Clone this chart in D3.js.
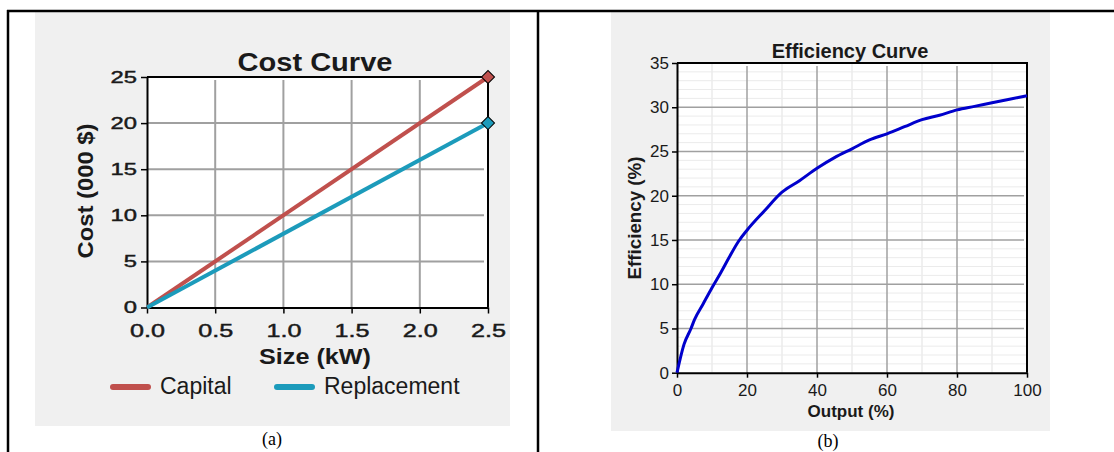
<!DOCTYPE html>
<html>
<head>
<meta charset="utf-8">
<script src="https://cdn.jsdelivr.net/npm/d3@7"></script>
<style>
body { margin: 0; background: #fff; }
svg { display: block; font-family: "Liberation Sans", Arial, sans-serif; }
.axis .domain { stroke: #000; stroke-width: 2; }
.axis .tick line { stroke: #000; stroke-width: 1.5; }
.axis .tick text { fill: #1a1a1a; }
</style>
</head>
<body>
<div id="chart-area"></div>
<script>
/*
*    Cost curve (a) and efficiency curve (b)
*/

// ---- data ----
const SIZES = [0, 2.5];
const CAPITAL = [0, 25];
const REPLACEMENT = [0, 20];
const COST_X_TICKS = [0, 0.5, 1, 1.5, 2, 2.5];
const COST_Y_TICKS = [0, 5, 10, 15, 20, 25];
const LEGEND = ["Capital", "Replacement"];

const OUTPUT = [0, 2, 4, 5, 7.5, 10, 12.5, 15, 17.5, 20, 25, 30, 35, 40, 45, 50, 55, 60, 65, 70, 75, 80, 85, 90, 95, 100];
const EFFICIENCY = [0, 3.2, 5.0, 6.0, 7.8, 9.6, 11.3, 13.1, 14.8, 16.1, 18.3, 20.4, 21.7, 23.1, 24.3, 25.3, 26.3, 27.0, 27.8, 28.6, 29.1, 29.7, 30.1, 30.5, 30.9, 31.3];
const EFF_X_TICKS = [0, 20, 40, 60, 80, 100];
const EFF_Y_TICKS = [0, 5, 10, 15, 20, 25, 30, 35];
const EFF_X_MINOR = [10, 30, 50, 70, 90];
const EFF_Y_MINOR = d3.range(1, 35).filter(v => v % 5 !== 0);

const RED = "#c0504d";
const TEAL = "#1c9bbb";
const GRID = "#a0a0a0";

// ---- svg ----
const W = 1114, H = 452;
const svg = d3.select("#chart-area").append("svg")
    .attr("width", W)
    .attr("height", H);

svg.append("rect").attr("width", W).attr("height", H).attr("fill", "#fff");

// panel backgrounds
svg.append("rect").attr("x", 35).attr("y", 12).attr("width", 475).attr("height", 414).attr("fill", "#f0f0f0");
svg.append("rect").attr("x", 611).attr("y", 12).attr("width", 439).attr("height", 419).attr("fill", "#f0f0f0");

// table frame
svg.append("line").attr("x1", 7).attr("x2", W).attr("y1", 11).attr("y2", 11).attr("stroke", "#000").attr("stroke-width", 2.5);
svg.append("line").attr("x1", 8).attr("x2", 8).attr("y1", 10).attr("y2", H).attr("stroke", "#000").attr("stroke-width", 2.5);
svg.append("line").attr("x1", 538).attr("x2", 538).attr("y1", 10).attr("y2", H).attr("stroke", "#000").attr("stroke-width", 2.5);

// captions
svg.append("text").attr("x", 272).attr("y", 445).attr("text-anchor", "middle")
    .style("font-family", "'Liberation Serif', 'Times New Roman', serif").style("font-size", "18px").text("(a)");
svg.append("text").attr("x", 828).attr("y", 447).attr("text-anchor", "middle")
    .style("font-family", "'Liberation Serif', 'Times New Roman', serif").style("font-size", "18px").text("(b)");

/* ---------- (a) Cost Curve ---------- */
const A = { L: 147, R: 488, T: 77, B: 307.5 };
const xA = d3.scaleLinear().domain([0, 2.5]).range([A.L, A.R]);
const yA = d3.scaleLinear().domain([0, 25]).range([A.B, A.T]);

const gA = svg.append("g");
gA.append("rect").attr("x", A.L).attr("y", A.T).attr("width", A.R - A.L).attr("height", A.B - A.T).attr("fill", "#fff");

gA.selectAll(".vgrid").data(COST_X_TICKS.slice(1, -1)).enter().append("line")
    .attr("x1", d => xA(d)).attr("x2", d => xA(d))
    .attr("y1", A.T + 3).attr("y2", A.B)
    .attr("stroke", GRID).attr("stroke-width", 2);
gA.selectAll(".hgrid").data(COST_Y_TICKS.slice(1, -1)).enter().append("line")
    .attr("x1", A.L).attr("x2", A.R - 4)
    .attr("y1", d => yA(d)).attr("y2", d => yA(d))
    .attr("stroke", GRID).attr("stroke-width", 2);

// top / right border
gA.append("path").attr("d", `M${A.L},${A.T}H${A.R}V${A.B}`).attr("fill", "none").attr("stroke", "#000").attr("stroke-width", 2);

const SXA = 1.4;
gA.append("g").attr("class", "axis").attr("transform", `translate(${A.L},0)`)
    .call(d3.axisLeft(yA).tickValues(COST_Y_TICKS).tickSize(6).tickSizeOuter(0).tickPadding(4))
    .selectAll("text").style("font-size", "17px")
    .attr("stroke", "#1a1a1a").attr("stroke-width", 0.45)
    .attr("transform", `scale(${SXA},1)`).attr("x", -10 / SXA);
gA.append("g").attr("class", "axis").attr("transform", `translate(0,${A.B})`)
    .call(d3.axisBottom(xA).tickValues(COST_X_TICKS).tickFormat(d3.format(".1f")).tickSize(6).tickSizeOuter(0).tickPadding(11))
    .selectAll("text").style("font-size", "18px")
    .attr("stroke", "#1a1a1a").attr("stroke-width", 0.45)
    .attr("transform", `scale(${SXA},1)`);

const lineA = d3.line().x(d => xA(d[0])).y(d => yA(d[1]));
const costSeries = [
    { name: LEGEND[0], color: RED, values: SIZES.map((s, i) => [s, CAPITAL[i]]) },
    { name: LEGEND[1], color: TEAL, values: SIZES.map((s, i) => [s, REPLACEMENT[i]]) }
];
gA.selectAll(".cost-line").data(costSeries).enter().append("path")
    .attr("d", d => lineA(d.values))
    .attr("fill", "none").attr("stroke", d => d.color).attr("stroke-width", 4);
gA.selectAll(".cost-mark").data(costSeries).enter().append("path")
    .attr("d", d3.symbol().type(d3.symbolSquare).size(85))
    .attr("transform", d => {
        const last = d.values[d.values.length - 1];
        return `translate(${xA(last[0])},${yA(last[1])}) rotate(45)`;
    })
    .attr("fill", d => d.color).attr("stroke", "#000").attr("stroke-width", 1);

gA.append("text").attr("x", 315).attr("y", 71).attr("text-anchor", "middle")
    .style("font-size", "25px").style("font-weight", "bold").attr("fill", "#1a1a1a")
    .attr("textLength", 155).attr("lengthAdjust", "spacingAndGlyphs").text("Cost Curve");
gA.append("text").attr("x", 315).attr("y", 364).attr("text-anchor", "middle")
    .style("font-size", "22px").style("font-weight", "bold").attr("fill", "#1a1a1a")
    .attr("textLength", 112).attr("lengthAdjust", "spacingAndGlyphs").text("Size (kW)");
gA.append("text").attr("transform", "translate(93,191) rotate(-90)").attr("text-anchor", "middle")
    .style("font-size", "22px").style("font-weight", "bold").attr("fill", "#1a1a1a")
    .attr("textLength", 135).attr("lengthAdjust", "spacingAndGlyphs").text("Cost (000 $)");

// legend
const legA = gA.selectAll(".leg").data(costSeries).enter().append("g")
    .attr("transform", (d, i) => `translate(${i === 0 ? 113 : 277},387)`);
legA.append("line").attr("x1", 0).attr("x2", 35).attr("y1", 0).attr("y2", 0)
    .attr("stroke", d => d.color).attr("stroke-width", 6).attr("stroke-linecap", "round");
legA.append("text").attr("x", 47).attr("y", 7)
    .style("font-size", "23px").attr("fill", "#1a1a1a").text(d => d.name);

/* ---------- (b) Efficiency Curve ---------- */
const B = { L: 677, R: 1027, T: 63, B: 372.7 };
const xB = d3.scaleLinear().domain([0, 100]).range([B.L, B.R]);
const yB = d3.scaleLinear().domain([0, 35]).range([B.B, B.T]);

const gB = svg.append("g");
gB.append("rect").attr("x", B.L).attr("y", B.T).attr("width", B.R - B.L).attr("height", B.B - B.T).attr("fill", "#fff");

gB.selectAll(".hminor").data(EFF_Y_MINOR).enter().append("line")
    .attr("x1", B.L).attr("x2", B.R).attr("y1", d => yB(d)).attr("y2", d => yB(d))
    .attr("stroke", "#ebebeb").attr("stroke-width", 1);
gB.selectAll(".vminor").data(EFF_X_MINOR).enter().append("line")
    .attr("x1", d => xB(d)).attr("x2", d => xB(d)).attr("y1", B.T).attr("y2", B.B)
    .attr("stroke", "#ebebeb").attr("stroke-width", 1.5);
gB.selectAll(".hmajor").data(EFF_Y_TICKS.slice(1, -1)).enter().append("line")
    .attr("x1", B.L).attr("x2", B.R - 3).attr("y1", d => yB(d)).attr("y2", d => yB(d))
    .attr("stroke", GRID).attr("stroke-width", 1.5);
gB.selectAll(".vmajor").data(EFF_X_TICKS.slice(1, -1)).enter().append("line")
    .attr("x1", d => xB(d)).attr("x2", d => xB(d)).attr("y1", B.T + 3).attr("y2", B.B)
    .attr("stroke", GRID).attr("stroke-width", 1.5);

gB.append("path").attr("d", `M${B.L},${B.T}H${B.R}V${B.B}`).attr("fill", "none").attr("stroke", "#000").attr("stroke-width", 2);

gB.append("g").attr("class", "axis").attr("transform", `translate(${B.L},0)`)
    .call(d3.axisLeft(yB).tickValues(EFF_Y_TICKS).tickSize(5).tickSizeOuter(0).tickPadding(3))
    .selectAll("text").style("font-size", "17px");
gB.append("g").attr("class", "axis").attr("transform", `translate(0,${B.B})`)
    .call(d3.axisBottom(xB).tickValues(EFF_X_TICKS).tickSize(5).tickSizeOuter(0).tickPadding(6))
    .selectAll("text").style("font-size", "17px");

const lineB = d3.line().x((d, i) => xB(OUTPUT[i])).y(d => yB(d)).curve(d3.curveMonotoneX);
gB.append("path").datum(EFFICIENCY).attr("d", lineB)
    .attr("fill", "none").attr("stroke", "#0000cc").attr("stroke-width", 3);

gB.append("text").attr("x", 850).attr("y", 58).attr("text-anchor", "middle")
    .style("font-size", "20px").style("font-weight", "bold").attr("fill", "#1a1a1a").text("Efficiency Curve");
gB.append("text").attr("x", 851).attr("y", 417).attr("text-anchor", "middle")
    .style("font-size", "17px").style("font-weight", "bold").attr("fill", "#1a1a1a").text("Output (%)");
gB.append("text").attr("transform", "translate(641,218) rotate(-90)").attr("text-anchor", "middle")
    .style("font-size", "18px").style("font-weight", "bold").attr("fill", "#1a1a1a")
    .attr("textLength", 123).attr("lengthAdjust", "spacingAndGlyphs").text("Efficiency (%)");
</script>
</body>
</html>
